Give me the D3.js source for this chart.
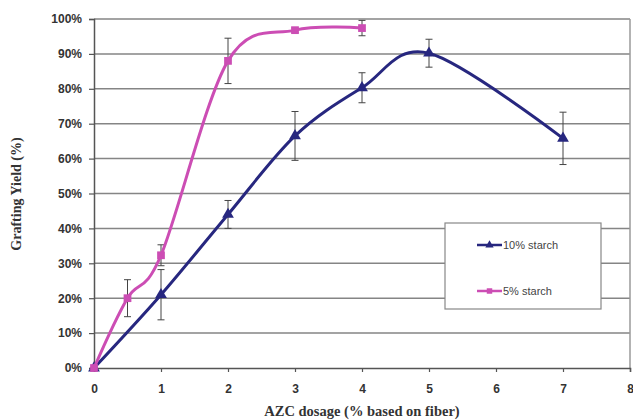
<!DOCTYPE html>
<html>
<head>
<meta charset="utf-8">
<script src="https://cdn.jsdelivr.net/npm/d3@7"></script>
<style>
  body { margin: 0; background: #fff; }
  svg { display: block; }
</style>
</head>
<body>
<div id="chart"></div>
<script>
// данные
const dose10 = [0, 1, 2, 3, 4, 5, 7];
const yield10 = [0, 21, 44, 66.5, 80.3, 90.2, 65.8];
const err10 = [0, 7.2, 4, 7, 4.3, 4, 7.5];

const dose5 = [0, 0.5, 1, 2, 3, 4];
const yield5 = [0, 20, 32.3, 88, 96.8, 97.4];
const err5 = [0, 5.3, 3, 6.5, 0.6, 2.2];

const xTicks = [0, 1, 2, 3, 4, 5, 6, 7, 8];
const yTicks = [0, 10, 20, 30, 40, 50, 60, 70, 80, 90, 100];

const seriesNames = ["10% starch", "5% starch"];
const colors = ["#27277f", "#cc4db4"];

const W = 633, H = 420;
const margin = { top: 19, right: 3, bottom: 52, left: 94 };
const width = W - margin.left - margin.right,
      height = H - margin.top - margin.bottom;

const svg = d3.select("#chart").append("svg")
    .attr("width", W)
    .attr("height", H);

const g = svg.append("g")
    .attr("transform", `translate(${margin.left},${margin.top})`);

const x = d3.scaleLinear().domain([0, 8]).range([0, width]);
const y = d3.scaleLinear().domain([0, 100]).range([height, 0]);

// сетка
g.selectAll("line.grid")
    .data(yTicks.slice(1))
    .enter().append("line")
    .attr("class", "grid")
    .attr("x1", 0).attr("x2", width)
    .attr("y1", d => y(d)).attr("y2", d => y(d))
    .attr("stroke", "#858585")
    .attr("stroke-width", 1.5);

// правая граница области
g.append("line")
    .attr("x1", width).attr("x2", width)
    .attr("y1", 0).attr("y2", height)
    .attr("stroke", "#9a9a9a")
    .attr("stroke-width", 1.5);

// оси
const font = "Arial, 'Liberation Sans', sans-serif";

const yAxis = g.append("g")
    .call(d3.axisLeft(y).tickValues(yTicks).tickSize(5).tickFormat(d => d + "%"));
const xAxis = g.append("g")
    .attr("transform", `translate(0,${height})`)
    .call(d3.axisBottom(x).tickValues(xTicks).tickSize(4).tickFormat(d3.format("d")));

[yAxis, xAxis].forEach(a => {
    a.select(".domain").attr("stroke", "#555").attr("stroke-width", 1.5);
    a.selectAll(".tick line").attr("stroke", "#555").attr("stroke-width", 1.2);
    a.selectAll("text")
        .attr("font-family", font)
        .attr("font-weight", "bold")
        .attr("font-size", 12)
        .attr("fill", "#333");
});
yAxis.selectAll("text").attr("x", -12);
xAxis.selectAll("text").attr("y", 16);

// подписи осей
svg.append("text")
    .attr("x", 362).attr("y", 416)
    .attr("text-anchor", "middle")
    .attr("font-family", "'Liberation Serif', 'Times New Roman', serif")
    .attr("font-weight", "bold")
    .attr("font-size", 14.5)
    .attr("fill", "#333")
    .text("AZC dosage (% based on fiber)");

svg.append("text")
    .attr("transform", "translate(21,194) rotate(-90)")
    .attr("text-anchor", "middle")
    .attr("font-family", "'Liberation Serif', 'Times New Roman', serif")
    .attr("font-weight", "bold")
    .attr("font-size", 14)
    .attr("fill", "#333")
    .text("Grafting Yield (%)");

// серии
const series = [
    { name: seriesNames[0], xs: dose10, ys: yield10, es: err10, color: colors[0], sym: d3.symbolTriangle },
    { name: seriesNames[1], xs: dose5, ys: yield5, es: err5, color: colors[1], sym: d3.symbolSquare }
];

const line = d3.line()
    .x(d => x(d.x))
    .y(d => y(d.y))
    .curve(d3.curveCatmullRom.alpha(0));

series.forEach(s => {
    const pts = s.xs.map((v, i) => ({ x: v, y: s.ys[i], e: s.es[i] }));

    // планки погрешностей
    const eb = g.append("g");
    pts.filter(p => p.e > 0).forEach(p => {
        eb.append("line")
            .attr("x1", x(p.x)).attr("x2", x(p.x))
            .attr("y1", y(p.y - p.e)).attr("y2", y(p.y + p.e))
            .attr("stroke", "#444").attr("stroke-width", 1);
        [p.y - p.e, p.y + p.e].forEach(v => {
            eb.append("line")
                .attr("x1", x(p.x) - 3.5).attr("x2", x(p.x) + 3.5)
                .attr("y1", y(v)).attr("y2", y(v))
                .attr("stroke", "#444").attr("stroke-width", 1);
        });
    });

    g.append("path")
        .datum(pts)
        .attr("fill", "none")
        .attr("stroke", s.color)
        .attr("stroke-width", 3)
        .attr("d", line);

    g.selectAll(null)
        .data(pts)
        .enter().append("path")
        .attr("transform", d => `translate(${x(d.x)},${y(d.y)})`)
        .attr("d", d3.symbol().type(s.sym).size(60))
        .attr("fill", s.color);
});

// легенда
const lg = svg.append("g").attr("transform", "translate(445,223)");
lg.append("rect")
    .attr("width", 156).attr("height", 86)
    .attr("fill", "#fff")
    .attr("stroke", "#888")
    .attr("stroke-width", 1.2);

series.forEach((s, i) => {
    const ly = 22 + i * 46;
    lg.append("line")
        .attr("x1", 32).attr("x2", 57)
        .attr("y1", ly).attr("y2", ly)
        .attr("stroke", s.color).attr("stroke-width", 2.5);
    lg.append("path")
        .attr("transform", `translate(44.5,${ly})`)
        .attr("d", d3.symbol().type(s.sym).size(30))
        .attr("fill", s.color);
    lg.append("text")
        .attr("x", 58).attr("y", ly + 4)
        .attr("font-family", font)
        .attr("font-size", 11)
        .attr("fill", "#444")
        .text(s.name);
});
</script>
</body>
</html>
